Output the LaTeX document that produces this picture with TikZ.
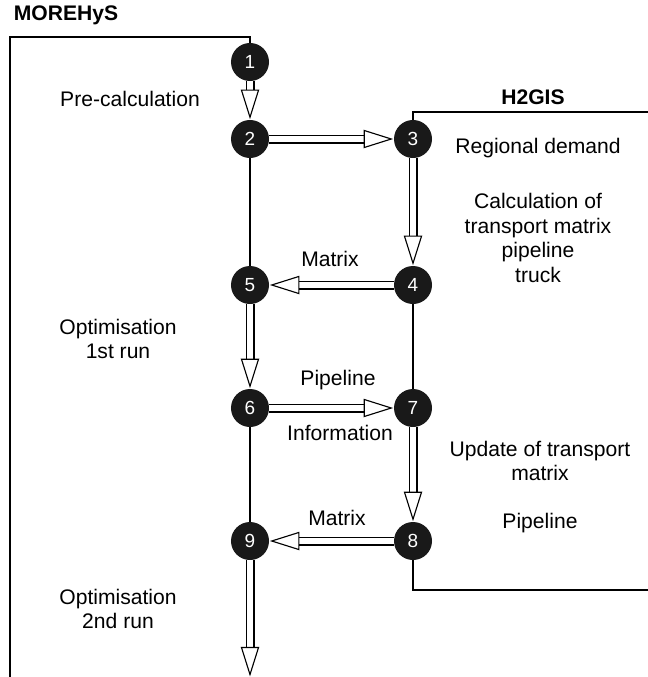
\documentclass[tikz,border=0pt]{standalone}
\usepackage{fontspec}
\setmainfont{Liberation Sans}
\usepackage{tikz}
\usetikzlibrary{arrows.meta}

\begin{document}
\begin{tikzpicture}[x=0.025cm, y=-0.025cm,
  every node/.style={font=\fontsize{15}{17.7}\selectfont, align=center},
  num/.style={circle, fill=black!90, text=white, inner sep=0pt, minimum size=0.95cm,
    font=\fontsize{13.5}{13.5}\selectfont},
  flow/.style={double=white, double distance=4.8pt, line width=0.8pt,
    -{Triangle[open, fill=white, length=21pt, width=13pt]}, shorten >=0.4pt},
  link/.style={line width=0.8pt}]
\useasboundingbox (0,0) rectangle (648,677);
% Steps
\node[num] (n1) at (250,62) {1};
\node[num] (n2) at (250,139) {2};
\node[num] (n3) at (413,139) {3};
\node[num] (n4) at (413,285) {4};
\node[num] (n5) at (250,285) {5};
\node[num] (n6) at (250,408) {6};
\node[num] (n7) at (413,408) {7};
\node[num] (n8) at (413,541) {8};
\node[num] (n9) at (250,541) {9};
\coordinate (out) at (250,677);
% Model frames
\draw[link] (10,677) -- (10,37) -- (n1 |- 0,37) -- (n1);
\draw[link] (n3) -- (n3 |- 0,112) -- (648,112);
\draw[link] (n8) -- (n8 |- 0,590) -- (648,590);
\node[font=\bfseries\fontsize{15}{17.7}\selectfont] at (66,15) {MOREHyS};
\node[font=\bfseries\fontsize{15}{17.7}\selectfont] at (533,97) {H2GIS};
% Plain links
\draw[link] (n2) -- (n5);
\draw[link] (n4) -- (n7);
\draw[link] (n6) -- (n9);
% Data flow
\draw[flow] (n1) -- (n2);
\draw[flow] (n2) -- (n3);
\draw[flow] (n3) -- (n4);
\draw[flow] (n4) -- (n5);
\draw[flow] (n5) -- (n6);
\draw[flow] (n6) -- (n7);
\draw[flow] (n7) -- (n8);
\draw[flow] (n8) -- (n9);
\draw[flow] (n9) -- (out);
% Labels
\node at (130,99) {Pre-calculation};
\node at (538,148) {Regional demand};
\node at (538,238) {Calculation of\\transport matrix\\pipeline\\truck};
\node at (330,259) {Matrix};
\node at (118,339) {Optimisation\\1st run};
\node at (338,380) {Pipeline};
\node at (340,433) {Information};
\node at (540,461) {Update of transport\\matrix};
\node at (540,523) {Pipeline};
\node at (337,518) {Matrix};
\node at (118,609) {Optimisation\\2nd run};
\end{tikzpicture}
\end{document}
